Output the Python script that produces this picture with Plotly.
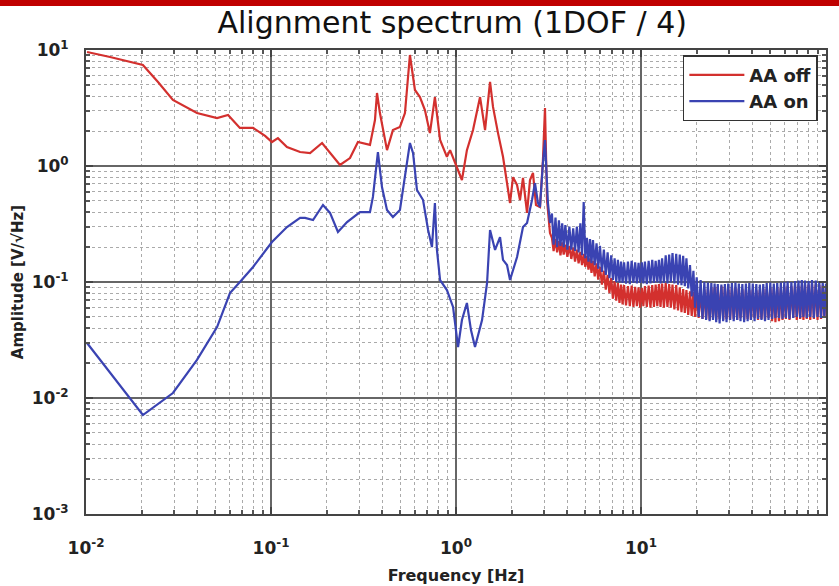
import plotly.graph_objects as go

# ---- data (frequency in Hz, amplitude in V/sqrt(Hz)) ----
red_freq_low = [0.01013, 0.01349, 0.0203, 0.0245, 0.0295, 0.0343, 0.0398, 0.0511, 0.0586, 0.0679,
                0.0800, 0.0929, 0.1012, 0.109, 0.122, 0.1436, 0.1626, 0.1888, 0.2085, 0.236,
                0.2673, 0.2951, 0.3427, 0.3648, 0.3741, 0.388, 0.4236, 0.456, 0.4977, 0.5297,
                0.5636, 0.5998, 0.6383, 0.6792, 0.7228, 0.7691, 0.8204, 0.8933, 0.929, 1.0125,
                1.0766, 1.1455, 1.2359, 1.349, 1.4355, 1.5275, 1.585, 1.687, 1.795, 1.887,
                1.959, 2.033, 2.138, 2.218, 2.302, 2.421, 2.512, 2.607, 2.706, 2.844,
                2.951, 3.027, 3.105, 3.221]
red_amp_low = [9.61, 8.70, 7.43, 5.30, 3.71, 3.23, 2.86, 2.59, 2.75, 2.13,
               2.13, 1.82, 1.61, 1.74, 1.46, 1.32, 1.29, 1.58, 1.29, 1.02,
               1.17, 1.61, 1.52, 2.49, 4.26, 2.86, 1.37, 2.04, 2.17, 2.86,
               9.06, 4.52, 3.93, 3.04, 1.92, 3.93, 1.68, 1.20, 1.37, 0.98,
               0.757, 1.37, 2.04, 3.93, 2.04, 5.30, 3.23, 1.92, 1.20, 0.713,
               0.48, 0.80, 0.686, 0.509, 0.788, 0.394, 0.757, 0.871, 0.461, 0.443,
               1.127, 3.16, 0.509, 0.264]

blue_freq_low = [0.01013, 0.0203, 0.0295, 0.0398, 0.0511, 0.060, 0.0679, 0.0800, 0.1012, 0.122,
                 0.1436, 0.1528, 0.1687, 0.191, 0.2085, 0.2301, 0.2577, 0.3027, 0.3427, 0.3556,
                 0.3784, 0.398, 0.4236, 0.456, 0.4977, 0.5297, 0.5636, 0.5861, 0.6152, 0.6637,
                 0.7066, 0.7413, 0.7691, 0.7888, 0.8204, 0.8933, 0.9638, 1.026, 1.0766, 1.1455,
                 1.205, 1.267, 1.383, 1.472, 1.5275, 1.626, 1.73, 1.795, 1.887, 1.959,
                 2.138, 2.302, 2.421, 2.576, 2.673, 2.773, 2.844, 2.951, 3.027, 3.14,
                 3.221]
blue_amp_low = [0.0298, 0.00713, 0.01104, 0.0213, 0.0409, 0.0804, 0.1, 0.1346, 0.2213, 0.298,
                0.3565, 0.3565, 0.342, 0.461, 0.394, 0.27, 0.329, 0.401, 0.401, 0.541,
                1.32, 0.659, 0.418, 0.363, 0.418, 0.80, 1.58, 1.29, 0.621, 0.509,
                0.281, 0.200, 0.48, 0.189, 0.104, 0.0853, 0.0609, 0.0275, 0.047, 0.0659,
                0.0385, 0.0275, 0.047, 0.098, 0.281, 0.189, 0.244, 0.155, 0.140, 0.104,
                0.164, 0.298, 0.323, 0.509, 0.713, 0.48, 0.443, 1.06, 1.675, 0.48,
                0.323]

# high-frequency (noisy) part, shared frequency bins
freq_hf = [3.3, 3.37, 3.45, 3.52, 3.6, 3.67, 3.75, 3.82, 3.9, 4.0,
           4.1, 4.2, 4.3, 4.4, 4.5, 4.6, 4.7, 4.8, 4.9, 5.0,
           5.1, 5.2, 5.3, 5.4, 5.5, 5.62, 5.75, 5.87, 6.0, 6.15,
           6.3, 6.45, 6.6, 6.75, 6.9, 7.05, 7.2, 7.35, 7.5, 7.65,
           7.8, 7.95, 8.1, 8.3, 8.5, 8.7, 8.9, 9.1, 9.3, 9.5,
           9.7, 9.9, 10.1, 10.3, 10.5, 10.75, 11.0, 11.25, 11.5, 11.75,
           12.0, 12.25, 12.5, 12.75, 13.0, 13.3, 13.6, 13.9, 14.2, 14.5,
           14.8, 15.15, 15.5, 15.85, 16.2, 16.55, 16.9, 17.25, 17.6, 18.0,
           18.4, 18.8, 19.2, 19.6, 20.0, 20.5, 21.0, 21.5, 22.0, 22.5,
           23.0, 23.5, 24.0, 24.5, 25.0, 25.5, 26.0, 26.6, 27.2, 27.8,
           28.4, 29.0, 29.6, 30.3, 31.0, 31.7, 32.4, 33.1, 33.8, 34.5,
           35.3, 36.1, 36.9, 37.7, 38.5, 39.3, 40.2, 41.1, 42.0, 42.9,
           43.9, 44.8, 45.8, 46.8, 47.8, 48.9, 50.0, 51.1, 52.2, 53.3,
           54.5, 55.7, 57.0, 58.2, 59.5, 60.7, 62.0, 63.5, 65.0, 66.5,
           68.0, 69.5, 71.0, 72.5, 74.0, 75.5, 77.0, 78.7, 80.5, 82.2,
           84.0, 86.0, 88.0, 90.0, 92.0, 94.0, 96.0, 98.0, 100.0]
red_amp_hf = [0.24, 0.185, 0.235, 0.18, 0.225, 0.17, 0.22, 0.172, 0.21, 0.165,
              0.205, 0.158, 0.198, 0.15, 0.19, 0.145, 0.182, 0.14, 0.175, 0.135,
              0.168, 0.128, 0.16, 0.12, 0.152, 0.112, 0.145, 0.105, 0.135, 0.095,
              0.125, 0.086, 0.115, 0.08, 0.108, 0.072, 0.102, 0.069, 0.098, 0.066,
              0.095, 0.064, 0.094, 0.063, 0.092, 0.062, 0.093, 0.061, 0.091, 0.062,
              0.090, 0.060, 0.089, 0.062, 0.092, 0.061, 0.093, 0.060, 0.094, 0.061,
              0.095, 0.062, 0.096, 0.061, 0.097, 0.060, 0.098, 0.061, 0.096, 0.060,
              0.095, 0.058, 0.094, 0.057, 0.090, 0.055, 0.087, 0.054, 0.085, 0.052,
              0.083, 0.051, 0.082, 0.050, 0.083, 0.049, 0.085, 0.048, 0.086, 0.048,
              0.088, 0.047, 0.089, 0.049, 0.090, 0.047, 0.091, 0.048, 0.092, 0.047,
              0.091, 0.048, 0.090, 0.047, 0.091, 0.048, 0.089, 0.047, 0.088, 0.049,
              0.087, 0.047, 0.086, 0.048, 0.085, 0.047, 0.086, 0.049, 0.085, 0.047,
              0.086, 0.048, 0.087, 0.047, 0.088, 0.049, 0.089, 0.046, 0.089, 0.045,
              0.090, 0.046, 0.089, 0.047, 0.091, 0.048, 0.092, 0.047, 0.092, 0.049,
              0.093, 0.047, 0.092, 0.048, 0.093, 0.047, 0.094, 0.048, 0.095, 0.047,
              0.096, 0.048, 0.095, 0.047, 0.094, 0.048, 0.093, 0.049, 0.091]
blue_amp_hf = [0.39, 0.21, 0.36, 0.20, 0.34, 0.205, 0.32, 0.20, 0.31, 0.19,
               0.30, 0.19, 0.29, 0.185, 0.30, 0.18, 0.32, 0.17, 0.49, 0.16,
               0.24, 0.15, 0.235, 0.145, 0.23, 0.14, 0.215, 0.13, 0.205, 0.122,
               0.19, 0.115, 0.18, 0.108, 0.17, 0.104, 0.16, 0.10, 0.155, 0.099,
               0.15, 0.098, 0.148, 0.097, 0.15, 0.096, 0.152, 0.098, 0.148, 0.097,
               0.146, 0.098, 0.148, 0.097, 0.15, 0.096, 0.152, 0.097, 0.155, 0.098,
               0.152, 0.099, 0.155, 0.097, 0.16, 0.098, 0.17, 0.097, 0.172, 0.099,
               0.178, 0.097, 0.175, 0.095, 0.172, 0.094, 0.168, 0.092, 0.16, 0.088,
               0.14, 0.075, 0.125, 0.06, 0.11, 0.05, 0.104, 0.048, 0.10, 0.047,
               0.099, 0.046, 0.098, 0.047, 0.097, 0.045, 0.096, 0.044, 0.095, 0.046,
               0.096, 0.045, 0.097, 0.047, 0.098, 0.046, 0.099, 0.047, 0.097, 0.046,
               0.096, 0.045, 0.097, 0.046, 0.098, 0.047, 0.097, 0.046, 0.096, 0.048,
               0.095, 0.047, 0.096, 0.046, 0.098, 0.047, 0.099, 0.048, 0.097, 0.049,
               0.098, 0.049, 0.099, 0.048, 0.100, 0.049, 0.101, 0.048, 0.100, 0.049,
               0.102, 0.050, 0.103, 0.049, 0.104, 0.050, 0.103, 0.049, 0.102, 0.050,
               0.104, 0.049, 0.103, 0.050, 0.101, 0.049, 0.100, 0.050, 0.097]

series_names = ["AA off", "AA on"]
x_tick_vals = [0.01, 0.1, 1, 10, 100]
x_tick_text = ["10<sup>-2</sup>", "10<sup>-1</sup>", "10<sup>0</sup>", "10<sup>1</sup>", "10<sup>2</sup>"]
y_tick_vals = [0.001, 0.01, 0.1, 1, 10]
y_tick_text = ["10<sup>-3</sup>", "10<sup>-2</sup>", "10<sup>-1</sup>", "10<sup>0</sup>", "10<sup>1</sup>"]

RED = "#d3302e"
BLUE = "#3a43b2"
FONT = "DejaVu Sans"

fig = go.Figure()
fig.add_trace(go.Scatter(x=red_freq_low + freq_hf, y=red_amp_low + red_amp_hf, mode="lines",
                         name=series_names[0], line=dict(color=RED, width=2.2)))
fig.add_trace(go.Scatter(x=blue_freq_low + freq_hf, y=blue_amp_low + blue_amp_hf, mode="lines",
                         name=series_names[1], line=dict(color=BLUE, width=2.2)))

axis_common = dict(
    type="log", showline=True, linecolor="#444", linewidth=2, mirror="allticks",
    ticks="inside", ticklen=7, tickcolor="#444", tickwidth=1.5,
    showgrid=True, gridcolor="#666", gridwidth=1.5,
    zeroline=False, automargin=False,
    tickfont=dict(family=FONT, size=17, color="#222", weight="bold"),
    minor=dict(dtick="D1", showgrid=True, gridcolor="#aaa", griddash="dot", gridwidth=1,
               ticks="inside", ticklen=4, tickcolor="#555"),
)

fig.update_xaxes(**axis_common, range=[-2, 2], tickmode="array", tickvals=x_tick_vals,
                 ticktext=x_tick_text, ticklabelstandoff=18,
                 title=dict(text="Frequency [Hz]", standoff=12,
                            font=dict(family=FONT, size=16, color="#222", weight="bold")))
fig.update_yaxes(**axis_common, range=[-3, 1], tickmode="array", tickvals=y_tick_vals,
                 ticktext=y_tick_text, ticklabelstandoff=12,
                 title=dict(text="Amplitude [V/√Hz]", standoff=4,
                            font=dict(family=FONT, size=15, color="#222", weight="bold")))

fig.add_shape(type="rect", xref="paper", yref="paper", x0=-0.12, x1=1.02, y0=1.095, y1=1.11,
              fillcolor="#c00000", line=dict(width=0), layer="above")

fig.update_layout(
    width=839, height=586,
    margin=dict(l=86, r=13, t=50, b=72),
    paper_bgcolor="white", plot_bgcolor="white",
    title=dict(text="Alignment spectrum (1DOF / 4)", x=0.539, xanchor="center", y=0.962, yanchor="middle",
               font=dict(family=FONT, size=30, color="#111")),
    legend=dict(x=0.989, xanchor="right", y=0.989, yanchor="top", bgcolor="white",
                bordercolor="#333", borderwidth=1.5, itemwidth=55,
                font=dict(family=FONT, size=18, color="#222", weight="bold"),
                tracegroupgap=2),
    showlegend=True,
)

fig.write_html("out.html")
